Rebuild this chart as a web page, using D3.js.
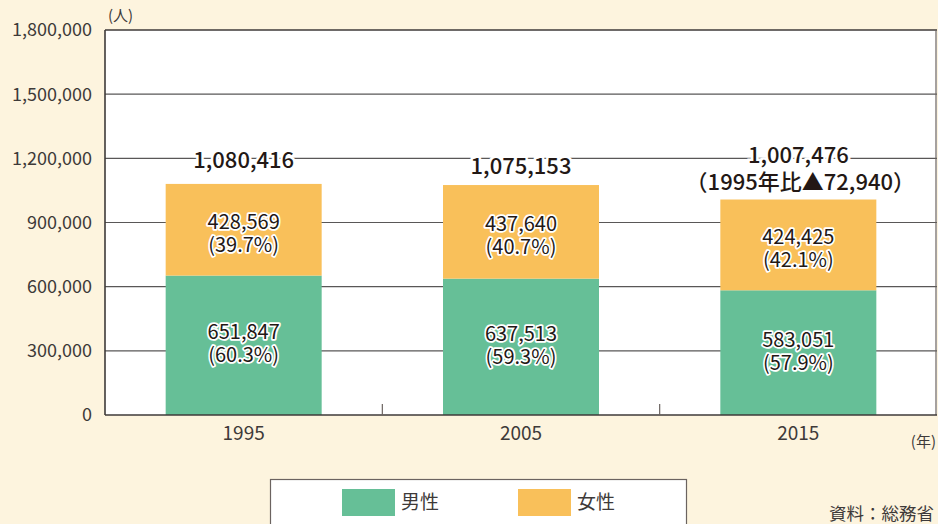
<!DOCTYPE html>
<html><head><meta charset="utf-8">
<script src="https://cdn.jsdelivr.net/npm/d3@7/dist/d3.min.js"></script>
<style>
html,body{margin:0;padding:0;background:#fdf4de;overflow:hidden}
text{font-family:"Noto Sans CJK JP","Noto Sans",sans-serif}
</style></head><body>
<svg id="c" width="938" height="524"></svg>
<script>
const years = ["1995", "2005", "2015"];
const male = [651847, 637513, 583051];
const female = [428569, 437640, 424425];
const yTicks = [0, 300000, 600000, 900000, 1200000, 1500000, 1800000];
const seriesNames = ["男性", "女性"];
const colors = ["#66bf97", "#f9c05a"];

const svg = d3.select("#c");
const W = 938, H = 524;
const L = 105, R = 937, T = 30, B = 415;
const dark = "#231815";
const fmt = d3.format(",");

svg.append("rect").attr("width", W).attr("height", H).attr("fill", "#fdf4de");
svg.append("rect").attr("x", L).attr("y", T).attr("width", R - L).attr("height", B - T).attr("fill", "#fff");

const y = d3.scaleLinear().domain([0, 1800000]).range([B, T]);
const xb = d3.scaleBand().domain(years).range([L, R]).paddingInner(0.4375).paddingOuter(0.21875);
const xs = d3.scaleBand().domain(years).range([L, R]).padding(0);

// gridlines
svg.append("g").selectAll("line").data(yTicks.filter(d => d > 0 && d < 1800000)).join("line")
  .attr("x1", L).attr("x2", R).attr("y1", d => y(d)).attr("y2", d => y(d))
  .attr("stroke", "#595757").attr("stroke-width", 1.2);

// y labels
svg.append("g").selectAll("text").data(yTicks).join("text")
  .attr("x", 92).attr("y", d => y(d)).attr("dy", "0.36em")
  .attr("text-anchor", "end").attr("font-size", 18).attr("fill", "#3e3a39")
  .text(d => fmt(d));

// bars
const totals = years.map((_, i) => male[i] + female[i]);
const g = svg.append("g");
years.forEach((yr, i) => {
  g.append("rect").attr("x", xb(yr)).attr("width", xb.bandwidth())
    .attr("y", y(male[i])).attr("height", y(0) - y(male[i])).attr("fill", colors[0]);
  g.append("rect").attr("x", xb(yr)).attr("width", xb.bandwidth())
    .attr("y", y(totals[i])).attr("height", y(male[i]) - y(totals[i])).attr("fill", colors[1]);
});

// frame
svg.append("line").attr("x1", L).attr("x2", R).attr("y1", T).attr("y2", T).attr("stroke", "#3e3a39").attr("stroke-width", 1.5);
svg.append("line").attr("x1", R - 1).attr("x2", R - 1).attr("y1", T).attr("y2", B).attr("stroke", "#6b6360").attr("stroke-width", 1.2);
svg.append("line").attr("x1", L).attr("x2", L).attr("y1", T).attr("y2", B).attr("stroke", "#3e3a39").attr("stroke-width", 1.6);
svg.append("line").attr("x1", L).attr("x2", R).attr("y1", B).attr("y2", B).attr("stroke", "#3e3a39").attr("stroke-width", 1.6);
// category boundary ticks
svg.append("g").selectAll("line").data(years.slice(1)).join("line")
  .attr("x1", d => xs(d)).attr("x2", d => xs(d)).attr("y1", B).attr("y2", B - 11)
  .attr("stroke", "#6b6360").attr("stroke-width", 1.2);

// x labels
svg.append("g").selectAll("text").data(years).join("text")
  .attr("x", d => xb(d) + xb.bandwidth() / 2).attr("y", 433).attr("dy", "0.36em")
  .attr("text-anchor", "middle").attr("font-size", 19).attr("fill", "#3e3a39").text(d => d);

// inner labels (two lines in one text element)
years.forEach((yr, i) => {
  const cx = xb(yr) + xb.bandwidth() / 2;
  const segs = [
    {v: male[i], c: (y(0) + y(male[i])) / 2 - 2},
    {v: female[i], c: (y(male[i]) + y(totals[i])) / 2 + 3}
  ];
  segs.forEach(s => {
    const t = g.append("text").attr("text-anchor", "middle").attr("font-size", 20)
      .attr("stroke", "#fff").attr("stroke-width", 3.5).attr("stroke-linejoin", "round")
      .attr("paint-order", "stroke").attr("fill", dark);
    t.append("tspan").attr("x", cx).attr("y", s.c - 11).attr("dy", "0.36em").text(fmt(s.v));
    t.append("tspan").attr("x", cx).attr("y", s.c + 12).attr("dy", "0.36em")
      .text("(" + (s.v / totals[i] * 100).toFixed(1) + "%)");
  });
});

// total labels
const totalOffsets = [24, 19, 44];
years.forEach((yr, i) => {
  const cx = xb(yr) + xb.bandwidth() / 2;
  svg.append("text").attr("x", cx).attr("y", y(totals[i]) - totalOffsets[i]).attr("dy", "0.36em")
    .attr("text-anchor", "middle").attr("font-size", 22).attr("font-weight", 500)
    .attr("stroke", "#fff").attr("stroke-width", 5).attr("paint-order", "stroke").attr("fill", dark)
    .text(fmt(totals[i]));
});
{
  const i = 2, yr = years[2];
  const cx = xb(yr) + xb.bandwidth() / 2;
  svg.append("text").attr("x", cx + 2).attr("y", y(totals[i]) - 17).attr("dy", "0.36em")
    .attr("text-anchor", "middle").attr("font-size", 22).attr("font-weight", 500).attr("fill", dark)
    .text("（" + years[0] + "年比▲" + fmt(totals[0] - totals[i]) + "）");
}

// units
svg.append("text").attr("x", 108).attr("y", 16).attr("dy", "0.36em").attr("font-size", 15).attr("fill", "#3e3a39").text("(人)");
svg.append("text").attr("x", 936).attr("y", 442).attr("dy", "0.36em").attr("text-anchor", "end").attr("font-size", 15).attr("fill", "#3e3a39").text("(年)");

// legend
svg.append("rect").attr("x", 270.5).attr("y", 479.5).attr("width", 416).attr("height", 60).attr("fill", "#fff").attr("stroke", "#6b6360").attr("stroke-width", 1.2);
const lx = [342, 518];
seriesNames.forEach((n, i) => {
  svg.append("rect").attr("x", lx[i]).attr("y", 489).attr("width", 53).attr("height", 27).attr("fill", colors[i]);
  svg.append("text").attr("x", lx[i] + 59).attr("y", 502).attr("dy", "0.36em").attr("font-size", 19).attr("fill", "#3e3a39").text(n);
});
svg.append("text").attr("x", 829).attr("y", 514).attr("dy", "0.36em").attr("font-size", 17.5).attr("fill", "#3e3a39").text("資料：総務省");
</script>
</body></html>
